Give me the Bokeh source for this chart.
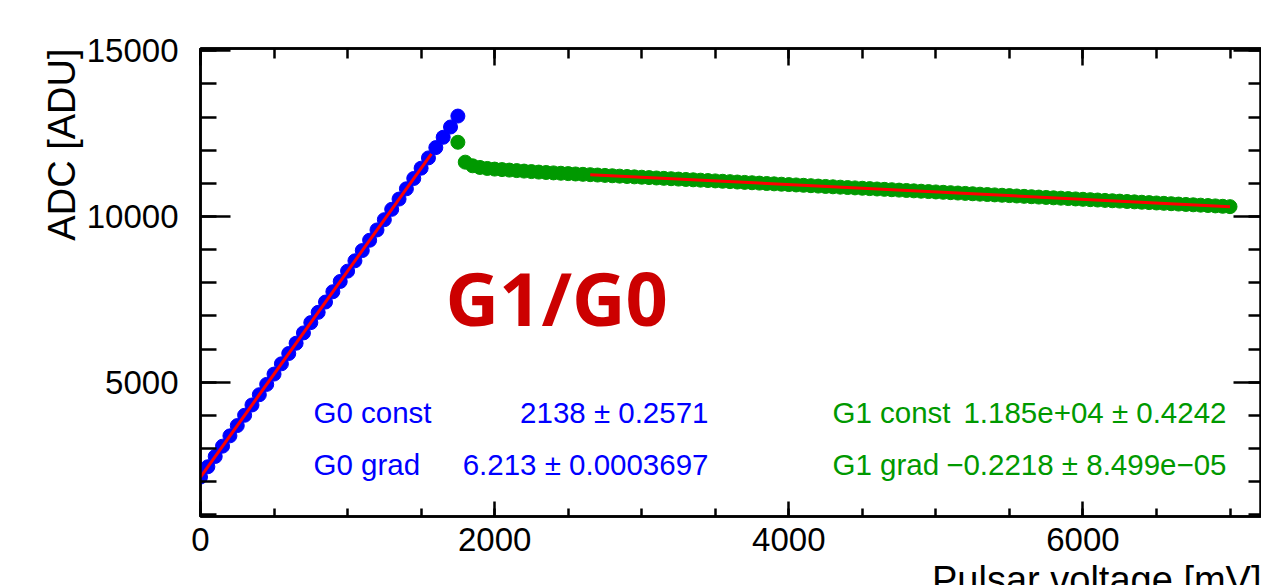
from bokeh.plotting import figure
from bokeh.models import Range1d, LinearAxis, SingleIntervalTicker, Label, Title
from bokeh.embed import file_html
from bokeh.resources import INLINE

# ---------------- data ----------------
g0_x = [0, 50, 100, 150, 200, 250, 300, 350, 400, 450, 500, 550, 600, 650, 700, 750,
        800, 850, 900, 950, 1000, 1050, 1100, 1150, 1200, 1250, 1300, 1350, 1400, 1450,
        1500, 1550, 1600, 1650, 1700, 1750]
g0_y = [2138, 2449, 2759, 3070, 3381, 3691, 4002, 4313, 4623, 4934, 5245, 5555, 5866,
        6176, 6487, 6798, 7108, 7419, 7730, 8040, 8351, 8662, 8972, 9283, 9594, 9904,
        10215, 10526, 10836, 11147, 11458, 11768, 12079, 12390, 12700, 13030]

g1_x = [1750, 1800, 1850, 1900, 1950, 2000, 2050, 2100, 2150, 2200, 2250, 2300, 2350,
        2400, 2450, 2500, 2550, 2600, 2650, 2700, 2750, 2800, 2850, 2900, 2950, 3000,
        3050, 3100, 3150, 3200, 3250, 3300, 3350, 3400, 3450, 3500, 3550, 3600, 3650,
        3700, 3750, 3800, 3850, 3900, 3950, 4000, 4050, 4100, 4150, 4200, 4250, 4300,
        4350, 4400, 4450, 4500, 4550, 4600, 4650, 4700, 4750, 4800, 4850, 4900, 4950,
        5000, 5050, 5100, 5150, 5200, 5250, 5300, 5350, 5400, 5450, 5500, 5550, 5600,
        5650, 5700, 5750, 5800, 5850, 5900, 5950, 6000, 6050, 6100, 6150, 6200, 6250,
        6300, 6350, 6400, 6450, 6500, 6550, 6600, 6650, 6700, 6750, 6800, 6850, 6900,
        6950, 7000]
g1_y = [12240, 11640, 11530, 11480, 11450, 11430, 11415, 11400, 11385, 11370, 11355,
        11340, 11328, 11316, 11305, 11294, 11283, 11272, 11262, 11251, 11240, 11229,
        11218, 11207, 11196, 11185, 11174, 11162, 11151, 11140, 11129, 11118, 11107,
        11096, 11085, 11074, 11063, 11052, 11040, 11029, 11018, 11007, 10996, 10985,
        10974, 10963, 10952, 10941, 10930, 10918, 10907, 10896, 10885, 10874, 10863,
        10852, 10841, 10830, 10819, 10808, 10796, 10785, 10774, 10763, 10752, 10741,
        10730, 10719, 10708, 10697, 10686, 10674, 10663, 10652, 10641, 10630, 10619,
        10608, 10597, 10586, 10575, 10564, 10553, 10541, 10530, 10519, 10508, 10497,
        10486, 10475, 10464, 10453, 10442, 10430, 10419, 10408, 10397, 10386, 10375,
        10364, 10353, 10342, 10331, 10320, 10308, 10297]

g0_fit_x = [0, 1570]
g0_fit_y = [2138, 11892]
g1_fit_x = [2650, 7000]
g1_fit_y = [11262, 10297]

g0_labels = ["G0 const", "G0 grad"]
g0_values = ["2138 \u00b1 0.2571", "6.213 \u00b1 0.0003697"]
g1_labels = ["G1 const", "G1 grad"]
g1_values = ["1.185e+04 \u00b1 0.4242", "\u22120.2218 \u00b1 8.499e\u221205"]

x_title = "Pulsar voltage [mV]"
y_title = "ADC [ADU]"
big_title = "G1/G0"

# ---------------- figure ----------------
FONT = "Liberation Sans"
BLUE = "#0000ff"
GREEN = "#009900"
RED = "#ff0000"
STAT_SIZE = "29.5px"

p = figure(width=1261, height=585,
           x_range=Range1d(0, 7214), y_range=Range1d(948, 15069),
           output_backend="svg", toolbar_location=None,
           min_border_left=200, min_border_right=0,
           min_border_top=48, min_border_bottom=69)
p.xgrid.visible = False
p.ygrid.visible = False
p.outline_line_color = "black"
p.outline_line_width = 2.5
p.background_fill_color = "white"
p.border_fill_color = "white"


def style_axis(ax, major_in, minor_in, labels=True):
    ax.axis_line_color = "black"
    ax.axis_line_width = 2.5
    ax.major_tick_line_color = "black"
    ax.major_tick_line_width = 2.5
    ax.minor_tick_line_color = "black"
    ax.minor_tick_line_width = 2.5
    ax.major_tick_out = 0
    ax.minor_tick_out = 0
    ax.major_tick_in = major_in
    ax.minor_tick_in = minor_in
    if labels:
        ax.major_label_text_font = FONT
        ax.major_label_text_font_size = "33px"
        ax.major_label_text_color = "black"
    else:
        ax.major_label_text_font_size = "1px"
        ax.major_label_text_color = None
        ax.major_label_standoff = 0


xb = p.xaxis[0]
xb.ticker = SingleIntervalTicker(interval=2000, num_minor_ticks=4)
style_axis(xb, 15, 8)
xb.major_label_standoff = 11

yl = p.yaxis[0]
yl.ticker = SingleIntervalTicker(interval=5000, num_minor_ticks=5)
style_axis(yl, 30, 16)
yl.major_label_standoff = 22

xt = LinearAxis(ticker=SingleIntervalTicker(interval=2000, num_minor_ticks=4))
style_axis(xt, 17, 10, labels=False)
p.add_layout(xt, "above")

yr = LinearAxis(ticker=SingleIntervalTicker(interval=5000, num_minor_ticks=5))
style_axis(yr, 28, 13, labels=False)
p.add_layout(yr, "right")

# axis titles as side titles (right-aligned like ROOT)
p.add_layout(Title(text=y_title, align="right", vertical_align="bottom",
                   standoff=2, offset=0, text_font=FONT, text_font_size="38px",
                   text_font_style="normal", text_color="black"), "left")
p.add_layout(Title(text="\n" + x_title, align="right", vertical_align="bottom",
                   standoff=-78, offset=0, text_font=FONT, text_font_size="38px",
                   text_font_style="normal", text_color="black"), "below")

# data points
p.scatter(g0_x, g0_y, size=14, fill_color=BLUE, line_color=BLUE)
p.scatter(g1_x, g1_y, size=14, fill_color=GREEN, line_color=GREEN)
# fits
p.line(g0_fit_x, g0_fit_y, line_color=RED, line_width=3)
p.line(g1_fit_x, g1_fit_y, line_color=RED, line_width=3)

# stat texts (screen units relative to frame: x from left, y up from bottom)
rows_y = [104, 52]
for i in range(2):
    p.add_layout(Label(x=113, y=rows_y[i], x_units="screen", y_units="screen",
                       text=g0_labels[i], text_font=FONT, text_font_size=STAT_SIZE,
                       text_color=BLUE, text_baseline="alphabetic", text_align="left"))
    p.add_layout(Label(x=508, y=rows_y[i], x_units="screen", y_units="screen",
                       text=g0_values[i], text_font=FONT, text_font_size=STAT_SIZE,
                       text_color=BLUE, text_baseline="alphabetic", text_align="right"))
    p.add_layout(Label(x=632, y=rows_y[i], x_units="screen", y_units="screen",
                       text=g1_labels[i], text_font=FONT, text_font_size=STAT_SIZE,
                       text_color=GREEN, text_baseline="alphabetic", text_align="left"))
    p.add_layout(Label(x=1026, y=rows_y[i], x_units="screen", y_units="screen",
                       text=g1_values[i], text_font=FONT, text_font_size=STAT_SIZE,
                       text_color=GREEN, text_baseline="alphabetic", text_align="right"))

p.add_layout(Label(x=245, y=219, x_units="screen", y_units="screen",
                   text=big_title, text_font="Open Sans", text_font_style="bold",
                   text_font_size="74px", text_color="#cc0000",
                   text_baseline="alphabetic", text_align="left"))

open("out.html", "w").write(file_html(p, INLINE))
